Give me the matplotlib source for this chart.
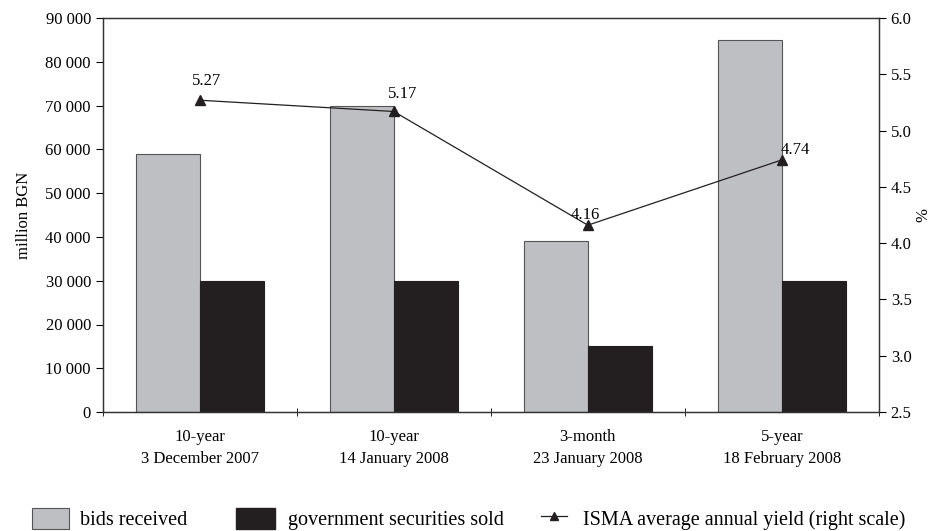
import matplotlib.pyplot as plt
import numpy as np
from matplotlib.lines import Line2D
from matplotlib.patches import Patch

plt.rcParams['font.family'] = ['Liberation Serif', 'DejaVu Serif']
plt.rcParams['font.size'] = 12

auctions = ["10-year\n3 December 2007", "10-year\n14 January 2008",
            "3-month\n23 January 2008", "5-year\n18 February 2008"]
bids_received = [59000, 70000, 39000, 85000]
securities_sold = [30000, 30000, 15000, 30000]
yield_pct = [5.27, 5.17, 4.16, 4.74]
# label offsets in points (dx, dy) to mimic the original placement
label_offsets = [(5, 8), (6.5, 7), (-1.5, 1.5), (9.4, 1.5)]

gray = "#bebfc3"
black = "#231f20"

fig = plt.figure(figsize=(9.34, 5.31), dpi=100)
ax = fig.add_axes([0.110, 0.224, 0.831, 0.742])
x = np.arange(len(auctions))
w = 0.33

ax.bar(x - w / 2, bids_received, width=w, color=gray, edgecolor="#555555", linewidth=0.8)
ax.bar(x + w / 2, securities_sold, width=w, color=black, edgecolor=black, linewidth=0.8)
ax.set_xlim(-0.5, len(auctions) - 0.5)
ax.set_ylim(0, 90000)
ax.set_yticks(np.arange(0, 90001, 10000))
ax.set_yticklabels([f"{v:,}".replace(",", " ") for v in range(0, 90001, 10000)])
ax.set_ylabel("million BGN", labelpad=10)

# category labels centred, ticks at group borders
ax.set_xticks(x)
ax.set_xticklabels(auctions, linespacing=1.5)
ax.tick_params(axis="x", length=0, pad=12)
ax.set_xticks(np.arange(-0.5, len(auctions)), minor=True)
ax.tick_params(axis="x", which="minor", length=6, direction="inout")
ax.tick_params(axis="y", direction="out", length=5)

for s in ax.spines.values():
    s.set_linewidth(0.9)
    s.set_color("#333333")

ax2 = ax.twinx()
ax2.plot(x, yield_pct, color=black, linewidth=0.9, marker="^", markersize=7)
ax2.set_ylim(2.5, 6.0)
ax2.set_yticks(np.arange(2.5, 6.01, 0.5))
ax2.set_yticklabels([f"{v:.1f}" for v in np.arange(2.5, 6.01, 0.5)])
ax2.tick_params(axis="y", direction="out", length=5)
ax2.set_ylabel("%", labelpad=3)
for xi, yi, (dx, dy) in zip(x, yield_pct, label_offsets):
    ax2.annotate(f"{yi:.2f}", (xi, yi), xytext=(dx, dy), textcoords="offset points",
                 ha="center", va="bottom", fontsize=12)
for s in ax2.spines.values():
    s.set_linewidth(0.9)
    s.set_color("#333333")

# legend: three separate entries placed along the bottom edge
legend_items = [
    (Patch(facecolor=gray, edgecolor="#555555", linewidth=0.8), "bids received", 32, 1.85, 0.55),
    (Patch(facecolor=black, edgecolor=black), "government securities sold", 236, 1.95, 0.65),
    (Line2D([], [], color=black, linewidth=0.9, marker="^", markersize=6),
     "ISMA average annual yield (right scale)", 541, 1.3, 0.8),
]
for h, lab, px, hl, pad in legend_items:
    leg = fig.legend([h], [lab], loc="center left", bbox_to_anchor=(px / 934, 1 - 519 / 531),
                     frameon=False, fontsize=14.5, handlelength=hl, handleheight=1.2,
                     handletextpad=pad, borderpad=0, borderaxespad=0)

fig.savefig("out.png", dpi=100)
